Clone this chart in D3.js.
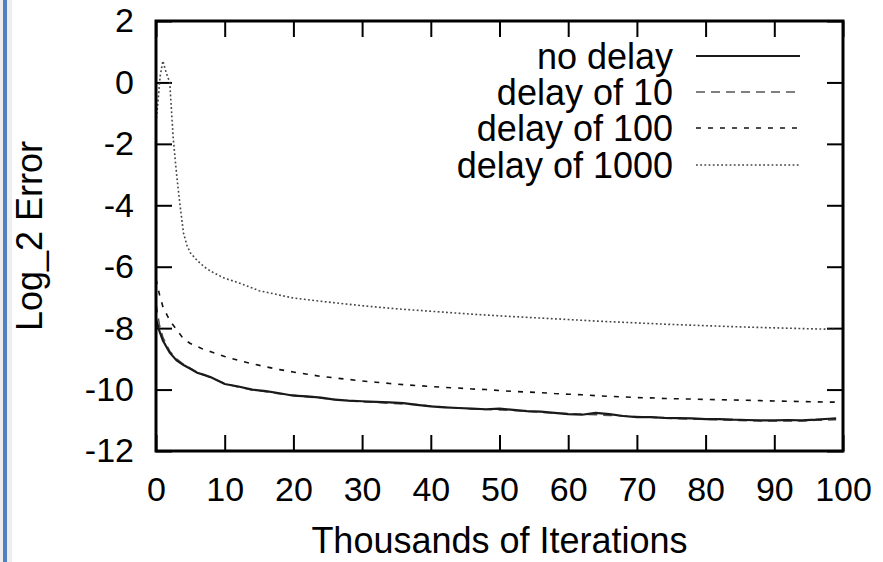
<!DOCTYPE html>
<html>
<head>
<meta charset="utf-8">
<script src="https://cdn.jsdelivr.net/npm/d3@7"></script>
<style>
  html, body { margin: 0; padding: 0; background: #fff; }
  svg { display: block; }
  text { font-family: "Liberation Sans", Arial, sans-serif; fill: #000; }
</style>
</head>
<body>
<svg id="chart" width="883" height="562"></svg>
<script>
// ---- data ----
const seriesNames = ["no delay", "delay of 10", "delay of 100", "delay of 1000"];
const xTicks = [0, 10, 20, 30, 40, 50, 60, 70, 80, 90, 100];
const yTicks = [2, 0, -2, -4, -6, -8, -10, -12];

const iterX = [0,0.5,1,2,3,4,5,6,7,8,10,12,14,16,18,20,22,24,26,28,30,32,34,36,38,40,42,44,46,48,50,52,54,56,58,60,62,64,66,68,70,72,74,76,78,80,82,84,86,88,90,92,94,96,98,99];
const noDelay = [-7.7,-8.1,-8.4,-8.8,-9.05,-9.2,-9.32,-9.45,-9.52,-9.6,-9.82,-9.9,-10.0,-10.05,-10.12,-10.2,-10.22,-10.26,-10.33,-10.36,-10.38,-10.4,-10.42,-10.44,-10.5,-10.55,-10.58,-10.6,-10.62,-10.64,-10.62,-10.66,-10.7,-10.72,-10.76,-10.8,-10.82,-10.76,-10.8,-10.86,-10.9,-10.9,-10.92,-10.93,-10.94,-10.96,-10.96,-10.98,-10.99,-11.0,-11.0,-10.99,-11.0,-10.98,-10.95,-10.94];
const delay10 = [-7.2,-7.9,-8.3,-8.75,-9.0,-9.18,-9.3,-9.44,-9.53,-9.62,-9.8,-9.92,-10.01,-10.07,-10.14,-10.18,-10.24,-10.28,-10.32,-10.37,-10.4,-10.41,-10.45,-10.47,-10.49,-10.54,-10.57,-10.6,-10.63,-10.65,-10.66,-10.68,-10.71,-10.74,-10.77,-10.78,-10.8,-10.82,-10.84,-10.86,-10.88,-10.9,-10.93,-10.95,-10.96,-10.97,-10.98,-11.0,-11.01,-11.02,-11.02,-11.02,-11.02,-11.0,-10.99,-10.98];
const delay100 = [-6.4,-6.9,-7.3,-7.75,-8.05,-8.35,-8.5,-8.6,-8.7,-8.77,-8.92,-9.05,-9.16,-9.26,-9.35,-9.43,-9.5,-9.57,-9.62,-9.67,-9.72,-9.76,-9.8,-9.84,-9.87,-9.9,-9.93,-9.95,-9.98,-10.0,-10.03,-10.06,-10.08,-10.1,-10.13,-10.15,-10.17,-10.2,-10.22,-10.24,-10.26,-10.27,-10.29,-10.3,-10.31,-10.32,-10.33,-10.34,-10.35,-10.36,-10.37,-10.38,-10.39,-10.4,-10.41,-10.41];
const iterX1000 = [0,0.3,0.6,1,1.5,2,2.5,3,3.5,4,4.5,5,6,7,8,10,12,15,20,25,30,35,40,45,50,55,60,65,70,75,80,85,90,95,99];
const delay1000 = [-1.3,-0.6,0.2,0.7,0.3,0.0,-1.8,-3.0,-4.0,-4.9,-5.3,-5.55,-5.8,-6.0,-6.15,-6.38,-6.52,-6.78,-7.02,-7.15,-7.27,-7.37,-7.45,-7.53,-7.6,-7.66,-7.72,-7.78,-7.83,-7.88,-7.92,-7.96,-7.99,-8.02,-8.04];

// ---- layout / styles ----
const svg = d3.select("#chart");
const L = 156, R = 843, T = 21, B = 451;
const x = d3.scaleLinear().domain([0, 100]).range([L, R]);
const y = d3.scaleLinear().domain([-12, 2]).range([B, T]);

const styles = [
  { color: "#1a1a1a", width: 2.2, dash: null },
  { color: "#555", width: 1.6, dash: "9,6" },
  { color: "#111", width: 1.6, dash: "5,7" },
  { color: "#444", width: 1.6, dash: "1.8,2.4" }
];

// left blue window edge
svg.append("rect").attr("x", 0).attr("y", 0).attr("width", 12).attr("height", 562).attr("fill", "#eeeeee");
svg.append("rect").attr("x", 3).attr("y", 0).attr("width", 4).attr("height", 562).attr("fill", "#4f80c2");

const fmt = d => String(d);

// axes with inward ticks on all sides
const tickLen = 16;
const gB = svg.append("g").attr("transform", `translate(0,${B})`)
  .call(d3.axisBottom(x).tickValues(xTicks).tickSize(-tickLen).tickPadding(26).tickFormat(fmt));
const gT = svg.append("g").attr("transform", `translate(0,${T})`)
  .call(d3.axisTop(x).tickValues(xTicks).tickSize(-tickLen).tickFormat(""));
const gL = svg.append("g").attr("transform", `translate(${L},0)`)
  .call(d3.axisLeft(y).tickValues(yTicks).tickSize(-tickLen).tickPadding(22).tickFormat(fmt));
const gR = svg.append("g").attr("transform", `translate(${R},0)`)
  .call(d3.axisRight(y).tickValues(yTicks).tickSize(-tickLen).tickFormat(""));
[gB, gT, gL, gR].forEach(g => {
  g.select(".domain").remove();
  g.selectAll(".tick line").attr("stroke", "#000").attr("stroke-width", 2);
});
gB.selectAll(".tick text").attr("font-size", 34).attr("font-family", "Liberation Sans, Arial, sans-serif").attr("fill", "#000");
gL.selectAll(".tick text").attr("font-size", 34).attr("font-family", "Liberation Sans, Arial, sans-serif").attr("fill", "#000");

// clip
svg.append("clipPath").attr("id", "clip").append("rect")
  .attr("x", L).attr("y", T).attr("width", R - L).attr("height", B - T);

const line = d3.line().x(d => x(d[0])).y(d => y(d[1]));
const seriesData = [
  d3.zip(iterX, noDelay),
  d3.zip(iterX, delay10),
  d3.zip(iterX, delay100),
  d3.zip(iterX1000, delay1000)
];
const plot = svg.append("g").attr("clip-path", "url(#clip)");
// draw in order: 1000, 100, 10, no delay
[3, 2, 1, 0].forEach(i => {
  plot.append("path").datum(seriesData[i])
    .attr("d", line).attr("fill", "none")
    .attr("stroke", styles[i].color).attr("stroke-width", styles[i].width)
    .attr("stroke-dasharray", styles[i].dash);
});

// frame
svg.append("rect").attr("x", L).attr("y", T).attr("width", R - L).attr("height", B - T)
  .attr("fill", "none").attr("stroke", "#000").attr("stroke-width", 3);

// legend
const legY = [56, 92, 128, 165];
const leg = svg.append("g");
seriesNames.forEach((name, i) => {
  leg.append("text").attr("x", 673).attr("y", legY[i]).attr("dy", "0.36em")
    .attr("text-anchor", "end").attr("font-size", 36).text(name);
  leg.append("line").attr("x1", 696).attr("x2", 800).attr("y1", legY[i]).attr("y2", legY[i])
    .attr("stroke", styles[i].color).attr("stroke-width", styles[i].width)
    .attr("stroke-dasharray", styles[i].dash);
});

// axis titles
svg.append("text").attr("x", (L + R) / 2).attr("y", 553).attr("text-anchor", "middle")
  .attr("font-size", 36).text("Thousands of Iterations");
svg.append("text").attr("transform", `translate(42,${(T + B) / 2}) rotate(-90)`)
  .attr("text-anchor", "middle").attr("font-size", 36).text("Log_2 Error");
</script>
</body>
</html>
